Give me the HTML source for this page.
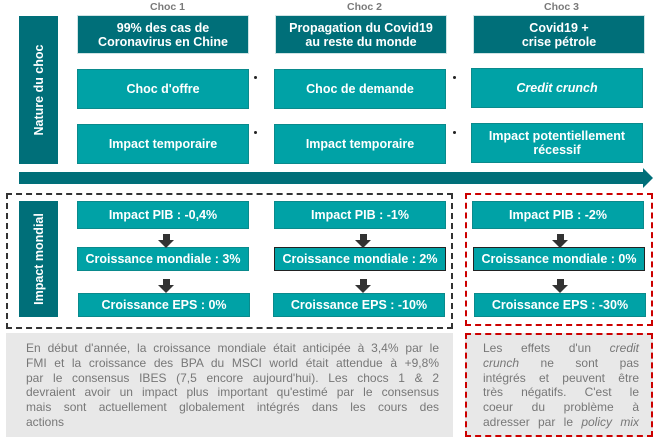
<!DOCTYPE html>
<html><head><meta charset="utf-8"><style>
body{margin:0;width:659px;height:439px;background:#fff;position:relative;overflow:hidden;font-family:"Liberation Sans",sans-serif}
.a{position:absolute;box-sizing:border-box;display:flex;align-items:center;justify-content:center;text-align:center;color:#fff;font-weight:bold;font-size:12.5px;line-height:14px}
.d{background:#006f79;border:1px solid #cfe3e4}
.t{background:#00a2a6;border:1px solid #0a8a8c}
.lbl{position:absolute;color:#7a7a7a;font-size:10.5px;font-weight:bold}
.v{position:absolute;background:#006f79;}
.v span{position:absolute;left:50%;top:50%;transform:translate(-50%,-50%) rotate(-90deg);white-space:nowrap;color:#fff;font-weight:bold;font-size:12.5px}
.dot{position:absolute;width:3px;height:3px;background:#222;border-radius:50%}
.arr{position:absolute;width:0;height:0;border-left:8px solid transparent;border-right:8px solid transparent;border-top:8px solid #333}
.arrs{position:absolute;width:7px;height:6px;background:#333}
.txt{position:absolute;box-sizing:border-box;background:#e8e8e8;color:#777;font-size:12px;line-height:14.8px}
.txt div{text-align:justify;text-align-last:justify;white-space:nowrap}
.txt div.l{text-align-last:left}
</style></head><body>
<div class="lbl" style="left:150px;top:1px">Choc 1</div>
<div class="lbl" style="left:347px;top:1px">Choc 2</div>
<div class="lbl" style="left:544px;top:1px">Choc 3</div>
<div class="v" style="left:19px;top:16px;width:39px;height:148px"><span>Nature du choc</span></div>
<div class="a d" style="left:77px;top:15px;width:172px;height:39px">99% des cas de<br>Coronavirus en Chine</div>
<div class="a d" style="left:275px;top:15px;width:172px;height:39px">Propagation du Covid19<br>au reste du monde</div>
<div class="a d" style="left:473px;top:15px;width:172px;height:39px">Covid19 +<br>crise pétrole</div>
<div class="a t" style="left:77px;top:69px;width:172px;height:40px">Choc d'offre</div>
<div class="a t" style="left:274px;top:69px;width:172px;height:40px">Choc de demande</div>
<div class="a t" style="left:471px;top:68px;width:172px;height:40px;font-style:italic">Credit crunch</div>
<div class="a t" style="left:77px;top:124px;width:172px;height:40px">Impact temporaire</div>
<div class="a t" style="left:274px;top:124px;width:172px;height:40px">Impact temporaire</div>
<div class="a t" style="left:471px;top:123px;width:172px;height:40px">Impact potentiellement<br>récessif</div>
<div class="dot" style="left:254px;top:76px"></div><div class="dot" style="left:254px;top:131px"></div>
<div class="dot" style="left:453px;top:76px"></div><div class="dot" style="left:453px;top:131px"></div>
<div style="position:absolute;left:19px;top:172px;width:626px;height:12px;background:#006f79"></div>
<div style="position:absolute;left:643px;top:168px;width:0;height:0;border-top:10px solid transparent;border-bottom:10px solid transparent;border-left:10px solid #006f79"></div>
<div style="position:absolute;left:6px;top:193px;width:447px;height:136px;border:2px dashed #333;box-sizing:border-box"></div>
<div style="position:absolute;left:465px;top:193px;width:188px;height:133px;border:2px dashed #c00;box-sizing:border-box"></div>
<div class="v" style="left:19px;top:201px;width:39px;height:116px"><span>Impact mondial</span></div>
<div class="a t" style="left:77px;top:201px;width:172px;height:28px">Impact PIB : -0,4%</div>
<div class="a t" style="left:274px;top:201px;width:172px;height:28px">Impact PIB : -1%</div>
<div class="a t" style="left:472px;top:201px;width:172px;height:28px">Impact PIB : -2%</div>
<div class="a t" style="left:77px;top:247px;width:172px;height:24px">Croissance mondiale : 3%</div>
<div class="a t" style="left:274px;top:247px;width:172px;height:24px;border-color:#222">Croissance mondiale : 2%</div>
<div class="a t" style="left:473px;top:247px;width:172px;height:24px;border-color:#222">Croissance mondiale : 0%</div>
<div class="a t" style="left:78px;top:293px;width:172px;height:24px">Croissance EPS : 0%</div>
<div class="a t" style="left:273px;top:293px;width:172px;height:24px">Croissance EPS : -10%</div>
<div class="a t" style="left:474px;top:293px;width:172px;height:24px">Croissance EPS : -30%</div>
<div class="arrs" style="left:163px;top:234px"></div><div class="arr" style="left:158px;top:240px"></div>
<div class="arrs" style="left:360px;top:234px"></div><div class="arr" style="left:355px;top:240px"></div>
<div class="arrs" style="left:557px;top:234px"></div><div class="arr" style="left:552px;top:240px"></div>
<div class="arrs" style="left:163px;top:279px"></div><div class="arr" style="left:158px;top:285px"></div>
<div class="arrs" style="left:360px;top:279px"></div><div class="arr" style="left:355px;top:285px"></div>
<div class="arrs" style="left:557px;top:279px"></div><div class="arr" style="left:552px;top:285px"></div>
<div class="txt" style="left:6px;top:333px;width:447px;height:104px;padding:8px 14px 8px 20px">
<div>En début d'année, la croissance mondiale était anticipée à 3,4% par le</div>
<div>FMI et la croissance des BPA du MSCI world était attendue à +9,8%</div>
<div>par le consensus IBES (7,5 encore aujourd'hui). Les chocs 1 &amp; 2</div>
<div>devraient avoir un impact plus important qu'estimé par le consensus</div>
<div>mais sont actuellement globalement intégrés dans les cours des</div>
<div class="l">actions</div></div>
<div class="txt" style="left:465px;top:333px;width:188px;height:104px;border:2px dashed #c00;padding:6px 12px 4px 16px">
<div>Les effets d'un <i>credit</i></div>
<div><i>crunch</i> ne sont pas</div>
<div>intégrés et peuvent être</div>
<div>très négatifs. C'est le</div>
<div>coeur du problème à</div>
<div>adresser par le <i>policy mix</i></div></div>
</body></html>
